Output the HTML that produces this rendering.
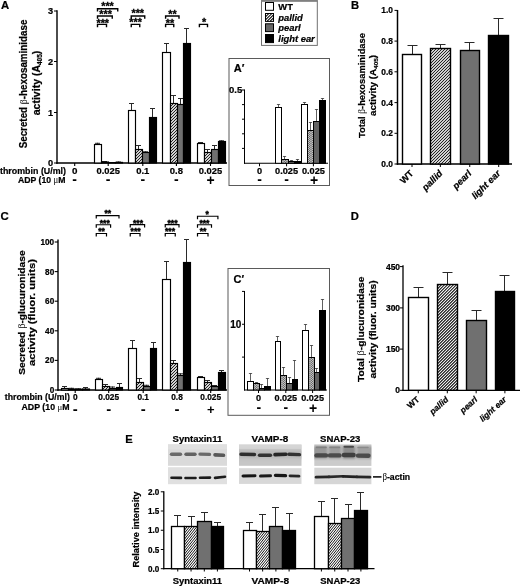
<!DOCTYPE html>
<html lang="en">
<head>
<meta charset="utf-8">
<title>Figure</title>
<style>
html,body{margin:0;padding:0;background:#fff;}
body{width:520px;height:587px;overflow:hidden;}
svg{display:block;}
svg text{font-family:"Liberation Sans",sans-serif;font-weight:bold;fill:#000;stroke:#000;stroke-width:0.22px;}
svg text.i{font-style:italic;}
svg .sym{font-family:"Liberation Serif","DejaVu Serif",serif;font-weight:normal;stroke:none;}
</style>
</head>
<body>
<svg width="520" height="587" viewBox="0 0 520 587">
<defs>
<filter id="bl" x="0" y="440" width="520" height="50" filterUnits="userSpaceOnUse"><feGaussianBlur stdDeviation="0.75"/></filter>
<filter id="bl1" x="0" y="440" width="520" height="50" filterUnits="userSpaceOnUse"><feGaussianBlur stdDeviation="0.9"/></filter>
<filter id="bl2" x="0" y="440" width="520" height="50" filterUnits="userSpaceOnUse"><feGaussianBlur stdDeviation="1.6"/></filter>
</defs>
<rect width="520" height="587" fill="#fff"/>

<g id="panelA">
<text x="0.9" y="9.1" font-size="11.3">A</text>
<line x1="57.00" y1="10.30" x2="57.00" y2="163.70" stroke="#000" stroke-width="1.4"/>
<line x1="56.30" y1="163.00" x2="227.00" y2="163.00" stroke="#000" stroke-width="1.4"/>
<line x1="54.00" y1="11.00" x2="57.00" y2="11.00" stroke="#000" stroke-width="1.0"/>
<text x="53" y="14.0" font-size="9.2" text-anchor="end">3</text>
<line x1="54.00" y1="61.50" x2="57.00" y2="61.50" stroke="#000" stroke-width="1.0"/>
<text x="53" y="64.5" font-size="9.2" text-anchor="end">2</text>
<line x1="54.00" y1="112.50" x2="57.00" y2="112.50" stroke="#000" stroke-width="1.0"/>
<text x="53" y="115.5" font-size="9.2" text-anchor="end">1</text>
<line x1="54.00" y1="163.00" x2="57.00" y2="163.00" stroke="#000" stroke-width="1.0"/>
<text x="53" y="166.0" font-size="9.2" text-anchor="end">0</text>
<text x="26.9" y="84" font-size="10.3" text-anchor="middle" textLength="128.7" lengthAdjust="spacingAndGlyphs" transform="rotate(-90 26.9 84)">Secreted <tspan class="sym">β</tspan>-hexosaminidase</text>
<text x="40.3" y="83" font-size="10.3" text-anchor="middle" textLength="64.5" lengthAdjust="spacingAndGlyphs" transform="rotate(-90 40.3 83)">activity (A<tspan font-size="6.3" dy="1.5">405</tspan><tspan dy="-1.5">)</tspan></text>
<line x1="97.50" y1="144.00" x2="97.50" y2="142.80" stroke="#2a2a2a" stroke-width="1.0"/>
<line x1="95.00" y1="143.30" x2="100.00" y2="143.30" stroke="#2a2a2a" stroke-width="1.0"/>
<line x1="104.50" y1="162.00" x2="104.50" y2="161.00" stroke="#2a2a2a" stroke-width="1.0"/>
<line x1="102.00" y1="161.50" x2="107.00" y2="161.50" stroke="#2a2a2a" stroke-width="1.0"/>
<line x1="118.50" y1="162.40" x2="118.50" y2="161.50" stroke="#2a2a2a" stroke-width="1.0"/>
<line x1="116.00" y1="162.00" x2="121.00" y2="162.00" stroke="#2a2a2a" stroke-width="1.0"/>
<rect x="94.50" y="144.50" width="7.00" height="18.50" fill="#fff" stroke="#000" stroke-width="1.15"/>
<rect x="101.50" y="162.00" width="7.00" height="1.00" fill="#fff"/>
<path d="M102.00 163.00L103.00 162.00M105.00 163.00L106.00 162.00M108.00 163.00L108.50 162.50" stroke="#000" stroke-width="1.05" fill="none"/>
<rect x="101.50" y="162.00" width="7.00" height="1.00" fill="none" stroke="#000" stroke-width="1.15"/>
<rect x="108.50" y="162.60" width="7.00" height="0.40" fill="#707070" stroke="#000" stroke-width="1.15"/>
<rect x="115.50" y="162.40" width="7.00" height="0.60" fill="#000" stroke="#000" stroke-width="1.15"/>
<line x1="131.50" y1="110.00" x2="131.50" y2="103.00" stroke="#2a2a2a" stroke-width="1.0"/>
<line x1="129.00" y1="103.50" x2="134.00" y2="103.50" stroke="#2a2a2a" stroke-width="1.0"/>
<line x1="138.50" y1="149.00" x2="138.50" y2="145.00" stroke="#2a2a2a" stroke-width="1.0"/>
<line x1="136.00" y1="145.50" x2="141.00" y2="145.50" stroke="#2a2a2a" stroke-width="1.0"/>
<line x1="145.50" y1="152.50" x2="145.50" y2="151.30" stroke="#2a2a2a" stroke-width="1.0"/>
<line x1="143.00" y1="151.80" x2="148.00" y2="151.80" stroke="#2a2a2a" stroke-width="1.0"/>
<line x1="152.50" y1="117.00" x2="152.50" y2="108.00" stroke="#2a2a2a" stroke-width="1.0"/>
<line x1="150.00" y1="108.50" x2="155.00" y2="108.50" stroke="#2a2a2a" stroke-width="1.0"/>
<rect x="128.50" y="110.50" width="7.00" height="52.50" fill="#fff" stroke="#000" stroke-width="1.15"/>
<rect x="135.50" y="149.50" width="7.00" height="13.50" fill="#fff"/>
<path d="M135.50 150.50L136.50 149.50M135.50 153.50L139.50 149.50M135.50 156.50L142.50 149.50M135.50 159.50L142.50 152.50M135.50 162.50L142.50 155.50M138.00 163.00L142.50 158.50M141.00 163.00L142.50 161.50" stroke="#000" stroke-width="1.05" fill="none"/>
<rect x="135.50" y="149.50" width="7.00" height="13.50" fill="none" stroke="#000" stroke-width="1.15"/>
<rect x="142.50" y="152.50" width="7.00" height="10.50" fill="#707070" stroke="#000" stroke-width="1.15"/>
<rect x="149.50" y="117.50" width="7.00" height="45.50" fill="#000" stroke="#000" stroke-width="1.15"/>
<line x1="166.50" y1="52.50" x2="166.50" y2="43.00" stroke="#2a2a2a" stroke-width="1.0"/>
<line x1="164.00" y1="43.50" x2="169.00" y2="43.50" stroke="#2a2a2a" stroke-width="1.0"/>
<line x1="173.50" y1="103.40" x2="173.50" y2="95.00" stroke="#2a2a2a" stroke-width="1.0"/>
<line x1="171.00" y1="95.50" x2="176.00" y2="95.50" stroke="#2a2a2a" stroke-width="1.0"/>
<line x1="180.50" y1="104.40" x2="180.50" y2="98.00" stroke="#2a2a2a" stroke-width="1.0"/>
<line x1="178.00" y1="98.50" x2="183.00" y2="98.50" stroke="#2a2a2a" stroke-width="1.0"/>
<line x1="186.50" y1="43.75" x2="186.50" y2="28.00" stroke="#2a2a2a" stroke-width="1.0"/>
<line x1="184.00" y1="28.50" x2="189.00" y2="28.50" stroke="#2a2a2a" stroke-width="1.0"/>
<rect x="162.50" y="52.50" width="8.00" height="110.50" fill="#fff" stroke="#000" stroke-width="1.15"/>
<rect x="170.50" y="103.50" width="7.00" height="59.50" fill="#fff"/>
<path d="M170.50 106.50L173.50 103.50M170.50 109.50L176.50 103.50M170.50 112.50L177.50 105.50M170.50 115.50L177.50 108.50M170.50 118.50L177.50 111.50M170.50 121.50L177.50 114.50M170.50 124.50L177.50 117.50M170.50 127.50L177.50 120.50M170.50 130.50L177.50 123.50M170.50 133.50L177.50 126.50M170.50 136.50L177.50 129.50M170.50 139.50L177.50 132.50M170.50 142.50L177.50 135.50M170.50 145.50L177.50 138.50M170.50 148.50L177.50 141.50M170.50 151.50L177.50 144.50M170.50 154.50L177.50 147.50M170.50 157.50L177.50 150.50M170.50 160.50L177.50 153.50M171.00 163.00L177.50 156.50M174.00 163.00L177.50 159.50M177.00 163.00L177.50 162.50" stroke="#000" stroke-width="1.05" fill="none"/>
<rect x="170.50" y="103.50" width="7.00" height="59.50" fill="none" stroke="#000" stroke-width="1.15"/>
<rect x="177.50" y="104.50" width="6.00" height="58.50" fill="#707070" stroke="#000" stroke-width="1.15"/>
<rect x="183.50" y="43.50" width="7.00" height="119.50" fill="#000" stroke="#000" stroke-width="1.15"/>
<line x1="200.50" y1="143.00" x2="200.50" y2="142.00" stroke="#2a2a2a" stroke-width="1.0"/>
<line x1="198.00" y1="142.50" x2="203.00" y2="142.50" stroke="#2a2a2a" stroke-width="1.0"/>
<line x1="207.50" y1="152.00" x2="207.50" y2="149.00" stroke="#2a2a2a" stroke-width="1.0"/>
<line x1="205.00" y1="149.50" x2="210.00" y2="149.50" stroke="#2a2a2a" stroke-width="1.0"/>
<line x1="214.50" y1="149.25" x2="214.50" y2="145.00" stroke="#2a2a2a" stroke-width="1.0"/>
<line x1="212.00" y1="145.50" x2="217.00" y2="145.50" stroke="#2a2a2a" stroke-width="1.0"/>
<line x1="221.50" y1="141.50" x2="221.50" y2="140.30" stroke="#2a2a2a" stroke-width="1.0"/>
<line x1="219.00" y1="140.80" x2="224.00" y2="140.80" stroke="#2a2a2a" stroke-width="1.0"/>
<rect x="197.50" y="143.50" width="7.00" height="19.50" fill="#fff" stroke="#000" stroke-width="1.15"/>
<rect x="204.50" y="152.50" width="7.00" height="10.50" fill="#fff"/>
<path d="M204.50 153.50L205.50 152.50M204.50 156.50L208.50 152.50M204.50 159.50L211.50 152.50M204.50 162.50L211.50 155.50M207.00 163.00L211.50 158.50M210.00 163.00L211.50 161.50" stroke="#000" stroke-width="1.05" fill="none"/>
<rect x="204.50" y="152.50" width="7.00" height="10.50" fill="none" stroke="#000" stroke-width="1.15"/>
<rect x="211.50" y="149.50" width="7.00" height="13.50" fill="#707070" stroke="#000" stroke-width="1.15"/>
<rect x="218.50" y="141.50" width="7.00" height="21.50" fill="#000" stroke="#000" stroke-width="1.15"/>
<path d="M97.50 11.55V8.75H117.75V11.55" fill="none" stroke="#000" stroke-width="1.4"/>
<text x="107.5" y="10.2" font-size="10.8" text-anchor="middle" style="stroke:#000;stroke-width:0.3">***</text>
<path d="M97.50 18.80V16.00H112.25V18.80" fill="none" stroke="#000" stroke-width="1.4"/>
<text x="105.6" y="18.2" font-size="10.8" text-anchor="middle" style="stroke:#000;stroke-width:0.3">***</text>
<path d="M97.50 27.20V24.40H106.50V27.20" fill="none" stroke="#000" stroke-width="1.4"/>
<text x="102.75" y="26.6" font-size="10.8" text-anchor="middle" style="stroke:#000;stroke-width:0.3">***</text>
<path d="M131.25 18.80V16.00H144.75V18.80" fill="none" stroke="#000" stroke-width="1.4"/>
<text x="137.75" y="17.4" font-size="10.8" text-anchor="middle" style="stroke:#000;stroke-width:0.3">***</text>
<path d="M131.25 27.20V24.40H139.75V27.20" fill="none" stroke="#000" stroke-width="1.4"/>
<text x="135.6" y="26.4" font-size="10.8" text-anchor="middle" style="stroke:#000;stroke-width:0.3">***</text>
<path d="M165.60 18.80V16.00H179.00V18.80" fill="none" stroke="#000" stroke-width="1.4"/>
<text x="172.5" y="18" font-size="10.8" text-anchor="middle" style="stroke:#000;stroke-width:0.3">**</text>
<path d="M165.60 27.20V24.40H173.75V27.20" fill="none" stroke="#000" stroke-width="1.4"/>
<text x="170" y="26.6" font-size="10.8" text-anchor="middle" style="stroke:#000;stroke-width:0.3">**</text>
<path d="M199.40 27.20V24.40H207.50V27.20" fill="none" stroke="#000" stroke-width="1.4"/>
<text x="204" y="26.4" font-size="10.8" text-anchor="middle" style="stroke:#000;stroke-width:0.3">*</text>
<text x="0" y="174.1" font-size="9.7" textLength="66" lengthAdjust="spacingAndGlyphs">thrombin (U/ml)</text>
<line x1="74.70" y1="163.00" x2="74.70" y2="166.00" stroke="#000" stroke-width="1.1"/>
<text x="74.7" y="174.1" font-size="9.8" text-anchor="middle">0</text>
<line x1="108.20" y1="163.00" x2="108.20" y2="166.00" stroke="#000" stroke-width="1.1"/>
<text x="108.2" y="174.1" font-size="9.8" text-anchor="middle" textLength="23.4" lengthAdjust="spacingAndGlyphs">0.025</text>
<line x1="142.80" y1="163.00" x2="142.80" y2="166.00" stroke="#000" stroke-width="1.1"/>
<text x="142.8" y="174.1" font-size="9.8" text-anchor="middle" textLength="13.2" lengthAdjust="spacingAndGlyphs">0.1</text>
<line x1="176.40" y1="163.00" x2="176.40" y2="166.00" stroke="#000" stroke-width="1.1"/>
<text x="176.4" y="174.1" font-size="9.8" text-anchor="middle" textLength="13.2" lengthAdjust="spacingAndGlyphs">0.8</text>
<line x1="210.50" y1="163.00" x2="210.50" y2="166.00" stroke="#000" stroke-width="1.1"/>
<text x="210.5" y="174.1" font-size="9.8" text-anchor="middle" textLength="23.4" lengthAdjust="spacingAndGlyphs">0.025</text>
<text x="18" y="182.9" font-size="9.7" textLength="47.5" lengthAdjust="spacingAndGlyphs">ADP (10 <tspan class="sym">μ</tspan>M</text>
<text x="74.7" y="184.31" font-size="14" text-anchor="middle" style="stroke:none">-</text>
<text x="108.2" y="184.31" font-size="14" text-anchor="middle" style="stroke:none">-</text>
<text x="142.8" y="184.31" font-size="14" text-anchor="middle" style="stroke:none">-</text>
<text x="176.4" y="184.31" font-size="14" text-anchor="middle" style="stroke:none">-</text>
<text x="210.7" y="185.19" font-size="14" text-anchor="middle" style="stroke:none">+</text>
</g>
<g id="legend">
<rect x="261.5" y="0.9" width="55.8" height="44.5" fill="#fff" stroke="#707070" stroke-width="1"/>
<line x1="261.00" y1="0.90" x2="317.80" y2="0.90" stroke="#808080" stroke-width="1.8"/>
<rect x="265.50" y="2.50" width="8.00" height="7.80" fill="#fff" stroke="#000" stroke-width="1.0"/>
<text x="278.3" y="9.6" font-size="9.4">WT</text>
<rect x="265.50" y="13.50" width="8.00" height="7.90" fill="#fff"/>
<path d="M265.50 13.90L265.90 13.50M265.50 16.90L268.90 13.50M265.50 19.90L271.90 13.50M267.00 21.40L273.50 14.90M270.00 21.40L273.50 17.90M273.00 21.40L273.50 20.90" stroke="#000" stroke-width="1.05" fill="none"/>
<rect x="265.50" y="13.50" width="8.00" height="7.90" fill="none" stroke="#000" stroke-width="1.0"/>
<text x="278.3" y="20.7" font-size="9.4" class="i">pallid</text>
<rect x="265.5" y="23.80" width="8" height="7.8" fill="#666" stroke="#000" stroke-width="1"/>
<text x="278.3" y="30.9" font-size="9.4" class="i">pearl</text>
<rect x="265.50" y="34.50" width="8.00" height="8.10" fill="#000" stroke="#000" stroke-width="1.0"/>
<text x="278.3" y="41.9" font-size="9.4" class="i">light ear</text>
</g>
<g id="insetA">
<rect x="229" y="58.5" width="100.5" height="127" fill="#fff" stroke="#5a5a5a" stroke-width="1"/>
<text x="233.75" y="71.8" font-size="11">A′</text>
<line x1="244.50" y1="89.50" x2="244.50" y2="163.80" stroke="#000" stroke-width="1.05"/>
<line x1="244.00" y1="163.30" x2="328.00" y2="163.30" stroke="#000" stroke-width="1.05"/>
<line x1="242.00" y1="90.00" x2="244.50" y2="90.00" stroke="#000" stroke-width="1.0"/>
<line x1="242.00" y1="104.60" x2="244.50" y2="104.60" stroke="#000" stroke-width="1.0"/>
<line x1="242.00" y1="119.20" x2="244.50" y2="119.20" stroke="#000" stroke-width="1.0"/>
<line x1="242.00" y1="133.80" x2="244.50" y2="133.80" stroke="#000" stroke-width="1.0"/>
<line x1="242.00" y1="148.40" x2="244.50" y2="148.40" stroke="#000" stroke-width="1.0"/>
<text x="242.2" y="93.4" font-size="9.5" text-anchor="end">0.5</text>
<line x1="278.50" y1="107.70" x2="278.50" y2="104.08" stroke="#444" stroke-width="0.85"/>
<line x1="276.90" y1="104.50" x2="280.10" y2="104.50" stroke="#444" stroke-width="0.85"/>
<line x1="284.50" y1="159.75" x2="284.50" y2="156.07" stroke="#444" stroke-width="0.85"/>
<line x1="282.90" y1="156.50" x2="286.10" y2="156.50" stroke="#444" stroke-width="0.85"/>
<line x1="291.50" y1="161.00" x2="291.50" y2="160.07" stroke="#444" stroke-width="0.85"/>
<line x1="289.90" y1="160.50" x2="293.10" y2="160.50" stroke="#444" stroke-width="0.85"/>
<line x1="297.50" y1="161.00" x2="297.50" y2="159.07" stroke="#444" stroke-width="0.85"/>
<line x1="295.90" y1="159.50" x2="299.10" y2="159.50" stroke="#444" stroke-width="0.85"/>
<rect x="275.50" y="107.50" width="6.00" height="55.80" fill="#fff" stroke="#000" stroke-width="1.0"/>
<rect x="281.50" y="159.50" width="7.00" height="3.80" fill="#fff"/>
<path d="M281.50 161.43L283.04 159.50M281.60 163.30L284.64 159.50M283.20 163.30L286.24 159.50M284.80 163.30L287.84 159.50M286.40 163.30L288.50 160.68M288.00 163.30L288.50 162.68" stroke="#000" stroke-width="0.64" fill="none"/>
<rect x="281.50" y="159.50" width="7.00" height="3.80" fill="none" stroke="#000" stroke-width="1.0"/>
<rect x="288.50" y="161.50" width="6.00" height="1.80" fill="#626262" stroke="#000" stroke-width="1.0"/>
<rect x="294.50" y="161.50" width="6.00" height="1.80" fill="#000" stroke="#000" stroke-width="1.0"/>
<line x1="304.50" y1="104.70" x2="304.50" y2="102.08" stroke="#444" stroke-width="0.85"/>
<line x1="302.90" y1="102.50" x2="306.10" y2="102.50" stroke="#444" stroke-width="0.85"/>
<line x1="310.50" y1="130.20" x2="310.50" y2="122.08" stroke="#444" stroke-width="0.85"/>
<line x1="308.90" y1="122.50" x2="312.10" y2="122.50" stroke="#444" stroke-width="0.85"/>
<line x1="316.50" y1="121.60" x2="316.50" y2="109.08" stroke="#444" stroke-width="0.85"/>
<line x1="314.90" y1="109.50" x2="318.10" y2="109.50" stroke="#444" stroke-width="0.85"/>
<line x1="322.50" y1="100.60" x2="322.50" y2="98.08" stroke="#444" stroke-width="0.85"/>
<line x1="320.90" y1="98.50" x2="324.10" y2="98.50" stroke="#444" stroke-width="0.85"/>
<rect x="301.50" y="104.50" width="6.00" height="58.80" fill="#fff" stroke="#000" stroke-width="1.0"/>
<rect x="307.50" y="130.50" width="6.00" height="32.80" fill="#fff"/>
<path d="M307.50 130.93L307.84 130.50M307.50 132.93L309.44 130.50M307.50 134.93L311.04 130.50M307.50 136.93L312.64 130.50M307.50 138.93L313.50 131.43M307.50 140.93L313.50 133.43M307.50 142.93L313.50 135.43M307.50 144.93L313.50 137.43M307.50 146.93L313.50 139.43M307.50 148.93L313.50 141.43M307.50 150.93L313.50 143.43M307.50 152.93L313.50 145.43M307.50 154.93L313.50 147.43M307.50 156.93L313.50 149.43M307.50 158.93L313.50 151.43M307.50 160.93L313.50 153.43M307.50 162.93L313.50 155.43M308.80 163.30L313.50 157.43M310.40 163.30L313.50 159.43M312.00 163.30L313.50 161.43" stroke="#000" stroke-width="0.64" fill="none"/>
<rect x="307.50" y="130.50" width="6.00" height="32.80" fill="none" stroke="#000" stroke-width="1.0"/>
<rect x="313.50" y="121.50" width="6.00" height="41.80" fill="#626262" stroke="#000" stroke-width="1.0"/>
<rect x="319.50" y="100.50" width="6.00" height="62.80" fill="#000" stroke="#000" stroke-width="1.0"/>
<line x1="259.50" y1="163.30" x2="259.50" y2="166.30" stroke="#000" stroke-width="1.0"/>
<text x="259.5" y="174" font-size="9.2" text-anchor="middle">0</text>
<line x1="286.60" y1="163.30" x2="286.60" y2="166.30" stroke="#000" stroke-width="1.0"/>
<text x="286.6" y="174" font-size="9.2" text-anchor="middle">0.025</text>
<line x1="313.40" y1="163.30" x2="313.40" y2="166.30" stroke="#000" stroke-width="1.0"/>
<text x="313.4" y="174" font-size="9.2" text-anchor="middle">0.025</text>
<text x="259.5" y="184.31" font-size="14" text-anchor="middle" style="stroke:none">-</text>
<text x="286.6" y="184.31" font-size="14" text-anchor="middle" style="stroke:none">-</text>
<text x="314" y="184.89" font-size="14" text-anchor="middle" style="stroke:none">+</text>
</g>
<g id="panelB">
<text x="351" y="9.0" font-size="11.2">B</text>
<line x1="397.50" y1="10.00" x2="397.50" y2="164.75" stroke="#000" stroke-width="1.5"/>
<line x1="396.75" y1="164.00" x2="512.00" y2="164.00" stroke="#000" stroke-width="1.5"/>
<line x1="394.50" y1="10.40" x2="397.50" y2="10.40" stroke="#000" stroke-width="1.0"/>
<text x="393" y="13.4" font-size="8.4" text-anchor="end">1.0</text>
<line x1="394.50" y1="41.10" x2="397.50" y2="41.10" stroke="#000" stroke-width="1.0"/>
<text x="393" y="44.1" font-size="8.4" text-anchor="end">0.8</text>
<line x1="394.50" y1="71.80" x2="397.50" y2="71.80" stroke="#000" stroke-width="1.0"/>
<text x="393" y="74.8" font-size="8.4" text-anchor="end">0.6</text>
<line x1="394.50" y1="102.60" x2="397.50" y2="102.60" stroke="#000" stroke-width="1.0"/>
<text x="393" y="105.6" font-size="8.4" text-anchor="end">0.4</text>
<line x1="394.50" y1="133.30" x2="397.50" y2="133.30" stroke="#000" stroke-width="1.0"/>
<text x="393" y="136.3" font-size="8.4" text-anchor="end">0.2</text>
<line x1="394.50" y1="164.00" x2="397.50" y2="164.00" stroke="#000" stroke-width="1.0"/>
<text x="393" y="167.0" font-size="8.4" text-anchor="end">0.0</text>
<text x="364.7" y="85.5" font-size="9.5" text-anchor="middle" textLength="105" lengthAdjust="spacingAndGlyphs" transform="rotate(-90 364.7 85.5)">Total <tspan class="sym">β</tspan>-hexosaminidase</text>
<text x="376.1" y="85.5" font-size="9.5" text-anchor="middle" textLength="61" lengthAdjust="spacingAndGlyphs" transform="rotate(-90 376.1 85.5)">activity (A<tspan font-size="6" dy="1.5">405</tspan><tspan dy="-1.5">)</tspan></text>
<line x1="412.50" y1="54.30" x2="412.50" y2="45.00" stroke="#2a2a2a" stroke-width="1.0"/>
<line x1="407.50" y1="45.50" x2="417.50" y2="45.50" stroke="#2a2a2a" stroke-width="1.0"/>
<line x1="440.50" y1="48.50" x2="440.50" y2="44.00" stroke="#2a2a2a" stroke-width="1.0"/>
<line x1="435.50" y1="44.50" x2="445.50" y2="44.50" stroke="#2a2a2a" stroke-width="1.0"/>
<line x1="469.50" y1="50.90" x2="469.50" y2="42.00" stroke="#2a2a2a" stroke-width="1.0"/>
<line x1="464.50" y1="42.50" x2="474.50" y2="42.50" stroke="#2a2a2a" stroke-width="1.0"/>
<line x1="498.50" y1="35.30" x2="498.50" y2="18.00" stroke="#2a2a2a" stroke-width="1.0"/>
<line x1="493.50" y1="18.50" x2="503.50" y2="18.50" stroke="#2a2a2a" stroke-width="1.0"/>
<rect x="402.50" y="54.50" width="19.00" height="109.50" fill="#fff" stroke="#000" stroke-width="1.4"/>
<line x1="412.00" y1="164.00" x2="412.00" y2="167.00" stroke="#000" stroke-width="1.0"/>
<rect x="430.50" y="48.50" width="20.00" height="115.50" fill="#fff"/>
<path d="M430.50 51.50L433.50 48.50M430.50 54.50L436.50 48.50M430.50 57.50L439.50 48.50M430.50 60.50L442.50 48.50M430.50 63.50L445.50 48.50M430.50 66.50L448.50 48.50M430.50 69.50L450.50 49.50M430.50 72.50L450.50 52.50M430.50 75.50L450.50 55.50M430.50 78.50L450.50 58.50M430.50 81.50L450.50 61.50M430.50 84.50L450.50 64.50M430.50 87.50L450.50 67.50M430.50 90.50L450.50 70.50M430.50 93.50L450.50 73.50M430.50 96.50L450.50 76.50M430.50 99.50L450.50 79.50M430.50 102.50L450.50 82.50M430.50 105.50L450.50 85.50M430.50 108.50L450.50 88.50M430.50 111.50L450.50 91.50M430.50 114.50L450.50 94.50M430.50 117.50L450.50 97.50M430.50 120.50L450.50 100.50M430.50 123.50L450.50 103.50M430.50 126.50L450.50 106.50M430.50 129.50L450.50 109.50M430.50 132.50L450.50 112.50M430.50 135.50L450.50 115.50M430.50 138.50L450.50 118.50M430.50 141.50L450.50 121.50M430.50 144.50L450.50 124.50M430.50 147.50L450.50 127.50M430.50 150.50L450.50 130.50M430.50 153.50L450.50 133.50M430.50 156.50L450.50 136.50M430.50 159.50L450.50 139.50M430.50 162.50L450.50 142.50M432.00 164.00L450.50 145.50M435.00 164.00L450.50 148.50M438.00 164.00L450.50 151.50M441.00 164.00L450.50 154.50M444.00 164.00L450.50 157.50M447.00 164.00L450.50 160.50M450.00 164.00L450.50 163.50" stroke="#000" stroke-width="1.05" fill="none"/>
<rect x="430.50" y="48.50" width="20.00" height="115.50" fill="none" stroke="#000" stroke-width="1.4"/>
<line x1="440.35" y1="164.00" x2="440.35" y2="167.00" stroke="#000" stroke-width="1.0"/>
<rect x="460.50" y="50.50" width="19.00" height="113.50" fill="#707070" stroke="#000" stroke-width="1.4"/>
<line x1="469.75" y1="164.00" x2="469.75" y2="167.00" stroke="#000" stroke-width="1.0"/>
<rect x="488.50" y="35.50" width="20.00" height="128.50" fill="#000" stroke="#000" stroke-width="1.4"/>
<line x1="498.70" y1="164.00" x2="498.70" y2="167.00" stroke="#000" stroke-width="1.0"/>
<text x="414" y="174" font-size="9.3" text-anchor="end" transform="rotate(-45 414 174)">WT</text>
<text x="443" y="174" font-size="9.3" text-anchor="end" transform="rotate(-45 443 174)" class="i">pallid</text>
<text x="472" y="174" font-size="9.3" text-anchor="end" transform="rotate(-45 472 174)" class="i">pearl</text>
<text x="501" y="174" font-size="9.3" text-anchor="end" transform="rotate(-45 501 174)" class="i">light ear</text>
</g>
<g id="panelC">
<text x="0.4" y="219.5" font-size="11.4">C</text>
<line x1="58.00" y1="239.50" x2="58.00" y2="390.70" stroke="#000" stroke-width="1.4"/>
<line x1="57.30" y1="390.00" x2="227.00" y2="390.00" stroke="#000" stroke-width="1.4"/>
<line x1="54.70" y1="242.00" x2="58.00" y2="242.00" stroke="#000" stroke-width="1.1"/>
<text x="54.2" y="244.9" font-size="8.2" text-anchor="end">100</text>
<line x1="54.70" y1="271.60" x2="58.00" y2="271.60" stroke="#000" stroke-width="1.1"/>
<text x="54.2" y="274.5" font-size="8.2" text-anchor="end">80</text>
<line x1="54.70" y1="301.20" x2="58.00" y2="301.20" stroke="#000" stroke-width="1.1"/>
<text x="54.2" y="304.09999999999997" font-size="8.2" text-anchor="end">60</text>
<line x1="54.70" y1="330.80" x2="58.00" y2="330.80" stroke="#000" stroke-width="1.1"/>
<text x="54.2" y="333.7" font-size="8.2" text-anchor="end">40</text>
<line x1="54.70" y1="360.40" x2="58.00" y2="360.40" stroke="#000" stroke-width="1.1"/>
<text x="54.2" y="363.29999999999995" font-size="8.2" text-anchor="end">20</text>
<line x1="54.70" y1="390.00" x2="58.00" y2="390.00" stroke="#000" stroke-width="1.1"/>
<text x="54.2" y="392.9" font-size="8.2" text-anchor="end">0</text>
<text x="24.8" y="312.6" font-size="9.8" text-anchor="middle" textLength="124.5" lengthAdjust="spacingAndGlyphs" transform="rotate(-90 24.8 312.6)">Secreted <tspan class="sym">β</tspan>-glucuronidase</text>
<text x="35.2" y="312.6" font-size="9.8" text-anchor="middle" textLength="107" lengthAdjust="spacingAndGlyphs" transform="rotate(-90 35.2 312.6)">activity (fluor. units)</text>
<line x1="64.50" y1="388.00" x2="64.50" y2="386.00" stroke="#2a2a2a" stroke-width="1.0"/>
<line x1="62.00" y1="386.50" x2="67.00" y2="386.50" stroke="#2a2a2a" stroke-width="1.0"/>
<line x1="71.50" y1="389.00" x2="71.50" y2="387.80" stroke="#2a2a2a" stroke-width="1.0"/>
<line x1="69.00" y1="388.30" x2="74.00" y2="388.30" stroke="#2a2a2a" stroke-width="1.0"/>
<line x1="78.50" y1="389.20" x2="78.50" y2="388.30" stroke="#2a2a2a" stroke-width="1.0"/>
<line x1="76.00" y1="388.80" x2="81.00" y2="388.80" stroke="#2a2a2a" stroke-width="1.0"/>
<line x1="85.50" y1="389.00" x2="85.50" y2="387.00" stroke="#2a2a2a" stroke-width="1.0"/>
<line x1="83.00" y1="387.50" x2="88.00" y2="387.50" stroke="#2a2a2a" stroke-width="1.0"/>
<rect x="61.50" y="388.50" width="7.00" height="1.50" fill="#fff" stroke="#000" stroke-width="1.15"/>
<rect x="68.50" y="389.00" width="7.00" height="1.00" fill="#fff"/>
<path d="M69.00 390.00L70.00 389.00M72.00 390.00L73.00 389.00M75.00 390.00L75.50 389.50" stroke="#000" stroke-width="1.05" fill="none"/>
<rect x="68.50" y="389.00" width="7.00" height="1.00" fill="none" stroke="#000" stroke-width="1.15"/>
<rect x="75.50" y="389.20" width="7.00" height="0.80" fill="#707070" stroke="#000" stroke-width="1.15"/>
<rect x="82.50" y="389.00" width="7.00" height="1.00" fill="#000" stroke="#000" stroke-width="1.15"/>
<line x1="98.50" y1="379.00" x2="98.50" y2="377.80" stroke="#2a2a2a" stroke-width="1.0"/>
<line x1="96.00" y1="378.30" x2="101.00" y2="378.30" stroke="#2a2a2a" stroke-width="1.0"/>
<line x1="105.50" y1="386.00" x2="105.50" y2="384.00" stroke="#2a2a2a" stroke-width="1.0"/>
<line x1="103.00" y1="384.50" x2="108.00" y2="384.50" stroke="#2a2a2a" stroke-width="1.0"/>
<line x1="112.50" y1="388.00" x2="112.50" y2="386.50" stroke="#2a2a2a" stroke-width="1.0"/>
<line x1="110.00" y1="387.00" x2="115.00" y2="387.00" stroke="#2a2a2a" stroke-width="1.0"/>
<line x1="119.50" y1="387.50" x2="119.50" y2="383.00" stroke="#2a2a2a" stroke-width="1.0"/>
<line x1="117.00" y1="383.50" x2="122.00" y2="383.50" stroke="#2a2a2a" stroke-width="1.0"/>
<rect x="95.50" y="379.50" width="7.00" height="10.50" fill="#fff" stroke="#000" stroke-width="1.15"/>
<rect x="102.50" y="386.50" width="7.00" height="3.50" fill="#fff"/>
<path d="M102.50 389.50L105.50 386.50M105.00 390.00L108.50 386.50M108.00 390.00L109.50 388.50" stroke="#000" stroke-width="1.05" fill="none"/>
<rect x="102.50" y="386.50" width="7.00" height="3.50" fill="none" stroke="#000" stroke-width="1.15"/>
<rect x="109.50" y="388.50" width="7.00" height="1.50" fill="#707070" stroke="#000" stroke-width="1.15"/>
<rect x="116.50" y="387.50" width="6.00" height="2.50" fill="#000" stroke="#000" stroke-width="1.15"/>
<line x1="132.50" y1="348.25" x2="132.50" y2="340.00" stroke="#2a2a2a" stroke-width="1.0"/>
<line x1="130.00" y1="340.50" x2="135.00" y2="340.50" stroke="#2a2a2a" stroke-width="1.0"/>
<line x1="139.50" y1="382.00" x2="139.50" y2="378.00" stroke="#2a2a2a" stroke-width="1.0"/>
<line x1="137.00" y1="378.50" x2="142.00" y2="378.50" stroke="#2a2a2a" stroke-width="1.0"/>
<line x1="146.50" y1="386.00" x2="146.50" y2="384.80" stroke="#2a2a2a" stroke-width="1.0"/>
<line x1="144.00" y1="385.30" x2="149.00" y2="385.30" stroke="#2a2a2a" stroke-width="1.0"/>
<line x1="153.50" y1="348.25" x2="153.50" y2="342.00" stroke="#2a2a2a" stroke-width="1.0"/>
<line x1="151.00" y1="342.50" x2="156.00" y2="342.50" stroke="#2a2a2a" stroke-width="1.0"/>
<rect x="128.50" y="348.50" width="8.00" height="41.50" fill="#fff" stroke="#000" stroke-width="1.15"/>
<rect x="136.50" y="382.50" width="7.00" height="7.50" fill="#fff"/>
<path d="M136.50 385.50L139.50 382.50M136.50 388.50L142.50 382.50M138.00 390.00L143.50 384.50M141.00 390.00L143.50 387.50" stroke="#000" stroke-width="1.05" fill="none"/>
<rect x="136.50" y="382.50" width="7.00" height="7.50" fill="none" stroke="#000" stroke-width="1.15"/>
<rect x="143.50" y="386.50" width="7.00" height="3.50" fill="#707070" stroke="#000" stroke-width="1.15"/>
<rect x="150.50" y="348.50" width="6.00" height="41.50" fill="#000" stroke="#000" stroke-width="1.15"/>
<line x1="166.50" y1="279.50" x2="166.50" y2="261.00" stroke="#2a2a2a" stroke-width="1.0"/>
<line x1="164.00" y1="261.50" x2="169.00" y2="261.50" stroke="#2a2a2a" stroke-width="1.0"/>
<line x1="173.50" y1="363.75" x2="173.50" y2="360.00" stroke="#2a2a2a" stroke-width="1.0"/>
<line x1="171.00" y1="360.50" x2="176.00" y2="360.50" stroke="#2a2a2a" stroke-width="1.0"/>
<line x1="180.50" y1="375.00" x2="180.50" y2="373.30" stroke="#2a2a2a" stroke-width="1.0"/>
<line x1="178.00" y1="373.80" x2="183.00" y2="373.80" stroke="#2a2a2a" stroke-width="1.0"/>
<line x1="186.50" y1="262.50" x2="186.50" y2="239.00" stroke="#2a2a2a" stroke-width="1.0"/>
<line x1="184.00" y1="239.50" x2="189.00" y2="239.50" stroke="#2a2a2a" stroke-width="1.0"/>
<rect x="162.50" y="279.50" width="8.00" height="110.50" fill="#fff" stroke="#000" stroke-width="1.15"/>
<rect x="170.50" y="363.50" width="7.00" height="26.50" fill="#fff"/>
<path d="M170.50 366.50L173.50 363.50M170.50 369.50L176.50 363.50M170.50 372.50L177.50 365.50M170.50 375.50L177.50 368.50M170.50 378.50L177.50 371.50M170.50 381.50L177.50 374.50M170.50 384.50L177.50 377.50M170.50 387.50L177.50 380.50M171.00 390.00L177.50 383.50M174.00 390.00L177.50 386.50M177.00 390.00L177.50 389.50" stroke="#000" stroke-width="1.05" fill="none"/>
<rect x="170.50" y="363.50" width="7.00" height="26.50" fill="none" stroke="#000" stroke-width="1.15"/>
<rect x="177.50" y="375.50" width="6.00" height="14.50" fill="#707070" stroke="#000" stroke-width="1.15"/>
<rect x="183.50" y="262.50" width="7.00" height="127.50" fill="#000" stroke="#000" stroke-width="1.15"/>
<line x1="200.50" y1="377.50" x2="200.50" y2="376.00" stroke="#2a2a2a" stroke-width="1.0"/>
<line x1="198.00" y1="376.50" x2="203.00" y2="376.50" stroke="#2a2a2a" stroke-width="1.0"/>
<line x1="207.50" y1="382.50" x2="207.50" y2="380.00" stroke="#2a2a2a" stroke-width="1.0"/>
<line x1="205.00" y1="380.50" x2="210.00" y2="380.50" stroke="#2a2a2a" stroke-width="1.0"/>
<line x1="214.50" y1="386.25" x2="214.50" y2="385.00" stroke="#2a2a2a" stroke-width="1.0"/>
<line x1="212.00" y1="385.50" x2="217.00" y2="385.50" stroke="#2a2a2a" stroke-width="1.0"/>
<line x1="221.50" y1="372.50" x2="221.50" y2="370.00" stroke="#2a2a2a" stroke-width="1.0"/>
<line x1="219.00" y1="370.50" x2="224.00" y2="370.50" stroke="#2a2a2a" stroke-width="1.0"/>
<rect x="197.50" y="377.50" width="7.00" height="12.50" fill="#fff" stroke="#000" stroke-width="1.15"/>
<rect x="204.50" y="382.50" width="7.00" height="7.50" fill="#fff"/>
<path d="M204.50 383.50L205.50 382.50M204.50 386.50L208.50 382.50M204.50 389.50L211.50 382.50M207.00 390.00L211.50 385.50M210.00 390.00L211.50 388.50" stroke="#000" stroke-width="1.05" fill="none"/>
<rect x="204.50" y="382.50" width="7.00" height="7.50" fill="none" stroke="#000" stroke-width="1.15"/>
<rect x="211.50" y="386.50" width="7.00" height="3.50" fill="#707070" stroke="#000" stroke-width="1.15"/>
<rect x="218.50" y="372.50" width="7.00" height="17.50" fill="#000" stroke="#000" stroke-width="1.15"/>
<path d="M96.25 218.60V215.60H119.00V218.60" fill="none" stroke="#000" stroke-width="1.2"/>
<text x="107.75" y="215.60000000000002" font-size="8.6" text-anchor="middle" style="stroke:#000;stroke-width:0.45">**</text>
<path d="M96.25 227.75V224.75H110.60V227.75" fill="none" stroke="#000" stroke-width="1.2"/>
<text x="104.75" y="225.60000000000002" font-size="8.6" text-anchor="middle" style="stroke:#000;stroke-width:0.45">***</text>
<path d="M96.25 236.50V233.50H106.50V236.50" fill="none" stroke="#000" stroke-width="1.2"/>
<text x="101.5" y="233.60000000000002" font-size="8.6" text-anchor="middle" style="stroke:#000;stroke-width:0.45">**</text>
<path d="M130.25 227.60V224.60H144.60V227.60" fill="none" stroke="#000" stroke-width="1.2"/>
<text x="138" y="225.60000000000002" font-size="8.6" text-anchor="middle" style="stroke:#000;stroke-width:0.45">***</text>
<path d="M130.25 236.50V233.50H140.00V236.50" fill="none" stroke="#000" stroke-width="1.2"/>
<text x="135.6" y="233.60000000000002" font-size="8.6" text-anchor="middle" style="stroke:#000;stroke-width:0.45">***</text>
<path d="M165.25 227.60V224.60H179.00V227.60" fill="none" stroke="#000" stroke-width="1.2"/>
<text x="172.5" y="225.60000000000002" font-size="8.6" text-anchor="middle" style="stroke:#000;stroke-width:0.45">***</text>
<path d="M165.25 236.50V233.50H175.25V236.50" fill="none" stroke="#000" stroke-width="1.2"/>
<text x="170" y="233.60000000000002" font-size="8.6" text-anchor="middle" style="stroke:#000;stroke-width:0.45">***</text>
<path d="M197.50 219.25V216.25H217.90V219.25" fill="none" stroke="#000" stroke-width="1.2"/>
<text x="207.25" y="216.60000000000002" font-size="8.6" text-anchor="middle" style="stroke:#000;stroke-width:0.45">*</text>
<path d="M197.50 227.75V224.75H211.50V227.75" fill="none" stroke="#000" stroke-width="1.2"/>
<text x="204.4" y="225.60000000000002" font-size="8.6" text-anchor="middle" style="stroke:#000;stroke-width:0.45">***</text>
<path d="M197.50 236.50V233.50H208.00V236.50" fill="none" stroke="#000" stroke-width="1.2"/>
<text x="203" y="233.60000000000002" font-size="8.6" text-anchor="middle" style="stroke:#000;stroke-width:0.45">**</text>
<text x="4.8" y="399.9" font-size="9" textLength="65" lengthAdjust="spacingAndGlyphs">thrombin (U/ml)</text>
<line x1="75.20" y1="390.00" x2="75.20" y2="393.00" stroke="#000" stroke-width="1.1"/>
<text x="75.2" y="399.9" font-size="8.3" text-anchor="middle">0</text>
<line x1="108.70" y1="390.00" x2="108.70" y2="393.00" stroke="#000" stroke-width="1.1"/>
<text x="108.7" y="399.9" font-size="8.3" text-anchor="middle">0.025</text>
<line x1="143.20" y1="390.00" x2="143.20" y2="393.00" stroke="#000" stroke-width="1.1"/>
<text x="143.2" y="399.9" font-size="8.3" text-anchor="middle">0.1</text>
<line x1="177.00" y1="390.00" x2="177.00" y2="393.00" stroke="#000" stroke-width="1.1"/>
<text x="177" y="399.9" font-size="8.3" text-anchor="middle">0.8</text>
<line x1="210.70" y1="390.00" x2="210.70" y2="393.00" stroke="#000" stroke-width="1.1"/>
<text x="210.7" y="399.9" font-size="8.3" text-anchor="middle">0.025</text>
<text x="21.5" y="409.9" font-size="9" textLength="48" lengthAdjust="spacingAndGlyphs">ADP (10 <tspan class="sym">μ</tspan>M</text>
<text x="75.2" y="413.87" font-size="15" text-anchor="middle" style="stroke:none">-</text>
<text x="108.7" y="413.87" font-size="15" text-anchor="middle" style="stroke:none">-</text>
<text x="143.2" y="413.87" font-size="15" text-anchor="middle" style="stroke:none">-</text>
<text x="177" y="413.87" font-size="15" text-anchor="middle" style="stroke:none">-</text>
<text x="210.8" y="413.75" font-size="13" text-anchor="middle" style="stroke:none">+</text>
</g>
<g id="insetC">
<rect x="228" y="268.5" width="101.5" height="146.8" fill="#fff" stroke="#5a5a5a" stroke-width="1"/>
<text x="233.5" y="282.6" font-size="11">C′</text>
<line x1="244.50" y1="291.00" x2="244.50" y2="390.50" stroke="#000" stroke-width="1.05"/>
<line x1="244.00" y1="390.00" x2="327.00" y2="390.00" stroke="#000" stroke-width="1.05"/>
<line x1="242.00" y1="291.40" x2="244.50" y2="291.40" stroke="#000" stroke-width="1.0"/>
<line x1="242.00" y1="324.25" x2="244.50" y2="324.25" stroke="#000" stroke-width="1.0"/>
<line x1="242.00" y1="357.10" x2="244.50" y2="357.10" stroke="#000" stroke-width="1.0"/>
<text x="241.3" y="327.8" font-size="10" text-anchor="end">10</text>
<line x1="250.50" y1="381.75" x2="250.50" y2="373.07" stroke="#444" stroke-width="0.85"/>
<line x1="248.90" y1="373.50" x2="252.10" y2="373.50" stroke="#444" stroke-width="0.85"/>
<line x1="256.50" y1="383.25" x2="256.50" y2="382.07" stroke="#444" stroke-width="0.85"/>
<line x1="254.90" y1="382.50" x2="258.10" y2="382.50" stroke="#444" stroke-width="0.85"/>
<line x1="261.50" y1="388.00" x2="261.50" y2="384.07" stroke="#444" stroke-width="0.85"/>
<line x1="259.90" y1="384.50" x2="263.10" y2="384.50" stroke="#444" stroke-width="0.85"/>
<line x1="267.50" y1="386.25" x2="267.50" y2="378.07" stroke="#444" stroke-width="0.85"/>
<line x1="265.90" y1="378.50" x2="269.10" y2="378.50" stroke="#444" stroke-width="0.85"/>
<rect x="247.50" y="381.50" width="6.00" height="8.50" fill="#fff" stroke="#000" stroke-width="1.0"/>
<rect x="253.50" y="383.50" width="6.00" height="6.50" fill="#fff"/>
<path d="M253.50 385.12L254.80 383.50M253.50 387.12L256.40 383.50M253.50 389.12L258.00 383.50M254.40 390.00L259.50 383.62M256.00 390.00L259.50 385.62M257.60 390.00L259.50 387.62M259.20 390.00L259.50 389.62" stroke="#000" stroke-width="0.64" fill="none"/>
<rect x="253.50" y="383.50" width="6.00" height="6.50" fill="none" stroke="#000" stroke-width="1.0"/>
<rect x="259.50" y="388.50" width="5.00" height="1.50" fill="#626262" stroke="#000" stroke-width="1.0"/>
<rect x="264.50" y="386.50" width="6.00" height="3.50" fill="#000" stroke="#000" stroke-width="1.0"/>
<line x1="277.50" y1="341.25" x2="277.50" y2="336.07" stroke="#444" stroke-width="0.85"/>
<line x1="275.90" y1="336.50" x2="279.10" y2="336.50" stroke="#444" stroke-width="0.85"/>
<line x1="283.50" y1="375.00" x2="283.50" y2="367.07" stroke="#444" stroke-width="0.85"/>
<line x1="281.90" y1="367.50" x2="285.10" y2="367.50" stroke="#444" stroke-width="0.85"/>
<line x1="289.50" y1="383.25" x2="289.50" y2="377.07" stroke="#444" stroke-width="0.85"/>
<line x1="287.90" y1="377.50" x2="291.10" y2="377.50" stroke="#444" stroke-width="0.85"/>
<line x1="294.50" y1="379.25" x2="294.50" y2="360.07" stroke="#444" stroke-width="0.85"/>
<line x1="292.90" y1="360.50" x2="296.10" y2="360.50" stroke="#444" stroke-width="0.85"/>
<rect x="275.50" y="341.50" width="5.00" height="48.50" fill="#fff" stroke="#000" stroke-width="1.0"/>
<rect x="280.50" y="375.50" width="6.00" height="14.50" fill="#fff"/>
<path d="M280.50 377.38L282.00 375.50M280.50 379.38L283.60 375.50M280.50 381.38L285.20 375.50M280.50 383.38L286.50 375.88M280.50 385.38L286.50 377.88M280.50 387.38L286.50 379.88M280.50 389.38L286.50 381.88M281.60 390.00L286.50 383.88M283.20 390.00L286.50 385.88M284.80 390.00L286.50 387.88M286.40 390.00L286.50 389.88" stroke="#000" stroke-width="0.64" fill="none"/>
<rect x="280.50" y="375.50" width="6.00" height="14.50" fill="none" stroke="#000" stroke-width="1.0"/>
<rect x="286.50" y="383.50" width="6.00" height="6.50" fill="#626262" stroke="#000" stroke-width="1.0"/>
<rect x="292.50" y="379.50" width="5.00" height="10.50" fill="#000" stroke="#000" stroke-width="1.0"/>
<line x1="305.50" y1="330.60" x2="305.50" y2="324.07" stroke="#444" stroke-width="0.85"/>
<line x1="303.90" y1="324.50" x2="307.10" y2="324.50" stroke="#444" stroke-width="0.85"/>
<line x1="311.50" y1="357.50" x2="311.50" y2="345.07" stroke="#444" stroke-width="0.85"/>
<line x1="309.90" y1="345.50" x2="313.10" y2="345.50" stroke="#444" stroke-width="0.85"/>
<line x1="316.50" y1="372.50" x2="316.50" y2="368.07" stroke="#444" stroke-width="0.85"/>
<line x1="314.90" y1="368.50" x2="318.10" y2="368.50" stroke="#444" stroke-width="0.85"/>
<line x1="322.50" y1="310.75" x2="322.50" y2="299.07" stroke="#444" stroke-width="0.85"/>
<line x1="320.90" y1="299.50" x2="324.10" y2="299.50" stroke="#444" stroke-width="0.85"/>
<rect x="302.50" y="330.50" width="6.00" height="59.50" fill="#fff" stroke="#000" stroke-width="1.0"/>
<rect x="308.50" y="357.50" width="6.00" height="32.50" fill="#fff"/>
<path d="M308.50 358.38L309.20 357.50M308.50 360.38L310.80 357.50M308.50 362.38L312.40 357.50M308.50 364.38L314.00 357.50M308.50 366.38L314.50 358.88M308.50 368.38L314.50 360.88M308.50 370.38L314.50 362.88M308.50 372.38L314.50 364.88M308.50 374.38L314.50 366.88M308.50 376.38L314.50 368.88M308.50 378.38L314.50 370.88M308.50 380.38L314.50 372.88M308.50 382.38L314.50 374.88M308.50 384.38L314.50 376.88M308.50 386.38L314.50 378.88M308.50 388.38L314.50 380.88M308.80 390.00L314.50 382.88M310.40 390.00L314.50 384.88M312.00 390.00L314.50 386.88M313.60 390.00L314.50 388.88" stroke="#000" stroke-width="0.64" fill="none"/>
<rect x="308.50" y="357.50" width="6.00" height="32.50" fill="none" stroke="#000" stroke-width="1.0"/>
<rect x="314.50" y="372.50" width="5.00" height="17.50" fill="#626262" stroke="#000" stroke-width="1.0"/>
<rect x="319.50" y="310.50" width="6.00" height="79.50" fill="#000" stroke="#000" stroke-width="1.0"/>
<line x1="258.50" y1="390.00" x2="258.50" y2="393.00" stroke="#000" stroke-width="1.0"/>
<text x="258.5" y="400.8" font-size="9.1" text-anchor="middle">0</text>
<line x1="285.80" y1="390.00" x2="285.80" y2="393.00" stroke="#000" stroke-width="1.0"/>
<text x="285.8" y="400.8" font-size="9.1" text-anchor="middle">0.025</text>
<line x1="312.60" y1="390.00" x2="312.60" y2="393.00" stroke="#000" stroke-width="1.0"/>
<text x="312.6" y="400.8" font-size="9.1" text-anchor="middle">0.025</text>
<text x="258.8" y="412.12" font-size="14" text-anchor="middle" style="stroke:none">-</text>
<text x="285.8" y="412.12" font-size="14" text-anchor="middle" style="stroke:none">-</text>
<text x="313.2" y="412.69" font-size="14" text-anchor="middle" style="stroke:none">+</text>
</g>
<g id="panelD">
<text x="350.7" y="219.8" font-size="11.2">D</text>
<line x1="403.00" y1="265.30" x2="403.00" y2="390.95" stroke="#000" stroke-width="1.3"/>
<line x1="402.35" y1="390.30" x2="520.00" y2="390.30" stroke="#000" stroke-width="1.3"/>
<line x1="400.00" y1="266.60" x2="403.00" y2="266.60" stroke="#000" stroke-width="1.0"/>
<text x="400.1" y="269.6" font-size="8.5" text-anchor="end">450</text>
<line x1="400.00" y1="307.90" x2="403.00" y2="307.90" stroke="#000" stroke-width="1.0"/>
<text x="400.1" y="310.9" font-size="8.5" text-anchor="end">300</text>
<line x1="400.00" y1="349.10" x2="403.00" y2="349.10" stroke="#000" stroke-width="1.0"/>
<text x="400.1" y="352.1" font-size="8.5" text-anchor="end">150</text>
<line x1="400.00" y1="390.30" x2="403.00" y2="390.30" stroke="#000" stroke-width="1.0"/>
<text x="400.1" y="393.3" font-size="8.5" text-anchor="end">0</text>
<text x="363.7" y="329.3" font-size="9.8" text-anchor="middle" textLength="105.4" lengthAdjust="spacingAndGlyphs" transform="rotate(-90 363.7 329.3)">Total <tspan class="sym">β</tspan>-glucuronidase</text>
<text x="376.2" y="329.4" font-size="9.6" text-anchor="middle" textLength="98" lengthAdjust="spacingAndGlyphs" transform="rotate(-90 376.2 329.4)">activity (fluor. units)</text>
<line x1="418.50" y1="297.00" x2="418.50" y2="287.00" stroke="#2a2a2a" stroke-width="1.0"/>
<line x1="413.50" y1="287.50" x2="423.50" y2="287.50" stroke="#2a2a2a" stroke-width="1.0"/>
<line x1="447.50" y1="284.00" x2="447.50" y2="272.00" stroke="#2a2a2a" stroke-width="1.0"/>
<line x1="442.50" y1="272.50" x2="452.50" y2="272.50" stroke="#2a2a2a" stroke-width="1.0"/>
<line x1="476.50" y1="320.40" x2="476.50" y2="310.00" stroke="#2a2a2a" stroke-width="1.0"/>
<line x1="471.50" y1="310.50" x2="481.50" y2="310.50" stroke="#2a2a2a" stroke-width="1.0"/>
<line x1="504.50" y1="291.70" x2="504.50" y2="275.00" stroke="#2a2a2a" stroke-width="1.0"/>
<line x1="499.50" y1="275.50" x2="509.50" y2="275.50" stroke="#2a2a2a" stroke-width="1.0"/>
<rect x="408.50" y="297.50" width="20.00" height="92.80" fill="#fff" stroke="#000" stroke-width="1.4"/>
<line x1="418.25" y1="390.30" x2="418.25" y2="393.30" stroke="#000" stroke-width="1.0"/>
<rect x="437.50" y="284.50" width="20.00" height="105.80" fill="#fff"/>
<path d="M437.50 285.80L438.80 284.50M437.50 288.80L441.80 284.50M437.50 291.80L444.80 284.50M437.50 294.80L447.80 284.50M437.50 297.80L450.80 284.50M437.50 300.80L453.80 284.50M437.50 303.80L456.80 284.50M437.50 306.80L457.50 286.80M437.50 309.80L457.50 289.80M437.50 312.80L457.50 292.80M437.50 315.80L457.50 295.80M437.50 318.80L457.50 298.80M437.50 321.80L457.50 301.80M437.50 324.80L457.50 304.80M437.50 327.80L457.50 307.80M437.50 330.80L457.50 310.80M437.50 333.80L457.50 313.80M437.50 336.80L457.50 316.80M437.50 339.80L457.50 319.80M437.50 342.80L457.50 322.80M437.50 345.80L457.50 325.80M437.50 348.80L457.50 328.80M437.50 351.80L457.50 331.80M437.50 354.80L457.50 334.80M437.50 357.80L457.50 337.80M437.50 360.80L457.50 340.80M437.50 363.80L457.50 343.80M437.50 366.80L457.50 346.80M437.50 369.80L457.50 349.80M437.50 372.80L457.50 352.80M437.50 375.80L457.50 355.80M437.50 378.80L457.50 358.80M437.50 381.80L457.50 361.80M437.50 384.80L457.50 364.80M437.50 387.80L457.50 367.80M438.00 390.30L457.50 370.80M441.00 390.30L457.50 373.80M444.00 390.30L457.50 376.80M447.00 390.30L457.50 379.80M450.00 390.30L457.50 382.80M453.00 390.30L457.50 385.80M456.00 390.30L457.50 388.80" stroke="#000" stroke-width="1.05" fill="none"/>
<rect x="437.50" y="284.50" width="20.00" height="105.80" fill="none" stroke="#000" stroke-width="1.4"/>
<line x1="447.30" y1="390.30" x2="447.30" y2="393.30" stroke="#000" stroke-width="1.0"/>
<rect x="466.50" y="320.50" width="20.00" height="69.80" fill="#707070" stroke="#000" stroke-width="1.4"/>
<line x1="476.15" y1="390.30" x2="476.15" y2="393.30" stroke="#000" stroke-width="1.0"/>
<rect x="495.50" y="291.50" width="19.00" height="98.80" fill="#000" stroke="#000" stroke-width="1.4"/>
<line x1="504.90" y1="390.30" x2="504.90" y2="393.30" stroke="#000" stroke-width="1.0"/>
<text x="420" y="400.3" font-size="8.4" text-anchor="end" transform="rotate(-42 420 400.3)">WT</text>
<text x="449" y="400.3" font-size="8.4" text-anchor="end" transform="rotate(-42 449 400.3)" class="i">pallid</text>
<text x="478" y="400.3" font-size="8.4" text-anchor="end" transform="rotate(-42 478 400.3)" class="i">pearl</text>
<text x="507" y="400.3" font-size="8.4" text-anchor="end" transform="rotate(-42 507 400.3)" class="i">light ear</text>
</g>
<g id="panelE">
<text x="125.2" y="443.3" font-size="11.2">E</text>
<text x="197.4" y="441.5" font-size="9.6" text-anchor="middle" textLength="49.7" lengthAdjust="spacingAndGlyphs">Syntaxin11</text>
<text x="269.9" y="441.5" font-size="9.6" text-anchor="middle" textLength="36.7" lengthAdjust="spacingAndGlyphs">VAMP-8</text>
<text x="340.2" y="441.5" font-size="9.6" text-anchor="middle" textLength="40.3" lengthAdjust="spacingAndGlyphs">SNAP-23</text>
<rect x="168" y="444.3" width="59.00" height="21.50" fill="#dadada"/>
<rect x="168" y="467.2" width="59.00" height="17.00" fill="#e0e0e0"/>
<rect x="168" y="444.3" width="59" height="5" fill="#e2e2e2" opacity="0.7"/>
<g filter="url(#bl)">
<path d="M171.5 454.3L180.5 454.3" stroke="#6a6a6a" stroke-width="3.4" stroke-linecap="round" fill="none"/>
<path d="M186 454.3L195 454.3" stroke="#626262" stroke-width="3.4" stroke-linecap="round" fill="none"/>
<path d="M200 454.1L209.5 454.40000000000003" stroke="#6a6a6a" stroke-width="3.4" stroke-linecap="round" fill="none"/>
<path d="M215 454.9L223.5 455.29999999999995" stroke="#585858" stroke-width="3.6" stroke-linecap="round" fill="none"/>
<path d="M171.5 477.7L181 477.9" stroke="#1a1a1a" stroke-width="2.6" stroke-linecap="round" fill="none"/>
<path d="M185.5 478L195.5 478" stroke="#1a1a1a" stroke-width="2.6" stroke-linecap="round" fill="none"/>
<path d="M200 477.8L210 477.6" stroke="#1a1a1a" stroke-width="2.6" stroke-linecap="round" fill="none"/>
<path d="M215 477.9L225 476.7" stroke="#1a1a1a" stroke-width="2.6" stroke-linecap="round" fill="none"/>
</g>
<rect x="239" y="444.6" width="62.50" height="21.20" fill="#c6c6c6"/>
<rect x="239" y="468.2" width="62.50" height="15.70" fill="#d8d8d8"/>
<rect x="239" y="444.6" width="62.5" height="4.5" fill="#d8d8d8" opacity="0.8"/>
<clipPath id="c2"><rect x="239" y="444.6" width="62.5" height="21.2"/></clipPath>
<g clip-path="url(#c2)"><rect x="232" y="450.5" width="76" height="8" fill="#b8b8b8" filter="url(#bl2)"/></g>
<g filter="url(#bl)">
<path d="M241 454.2L254.5 454.5" stroke="#2e2e2e" stroke-width="3.4" stroke-linecap="round" fill="none"/>
<path d="M259.5 455.2L270.5 455.2" stroke="#333" stroke-width="3.4" stroke-linecap="round" fill="none"/>
<path d="M275 454.6L286 454.3" stroke="#262626" stroke-width="3.6" stroke-linecap="round" fill="none"/>
<path d="M289 454.3L299.5 454.6" stroke="#333" stroke-width="3.4" stroke-linecap="round" fill="none"/>
<path d="M243 476L255 475.8" stroke="#181818" stroke-width="3.0" stroke-linecap="round" fill="none"/>
<path d="M260.5 476.1L270.5 475.8" stroke="#1c1c1c" stroke-width="3.0" stroke-linecap="round" fill="none"/>
<path d="M275.5 475.4L285.5 475.59999999999997" stroke="#141414" stroke-width="3.4" stroke-linecap="round" fill="none"/>
<path d="M290 475.8L299 476.2" stroke="#262626" stroke-width="2.8" stroke-linecap="round" fill="none"/>
</g>
<rect x="314.3" y="444.4" width="57.10" height="21.50" fill="#cbcbcb"/>
<rect x="314.3" y="467.7" width="57.10" height="16.50" fill="#d6d6d6"/>
<clipPath id="c3"><rect x="314.3" y="444.4" width="57.1" height="21.5"/></clipPath>
<g clip-path="url(#c3)"><g filter="url(#bl1)"><rect x="312" y="446.3" width="15.300000000000011" height="12.5" fill="#989898"/><rect x="328.7" y="446.3" width="12.300000000000011" height="12.5" fill="#9c9c9c"/><rect x="342.6" y="446.3" width="12.799999999999955" height="12.5" fill="#8c8c8c"/><rect x="357" y="446.3" width="17" height="12.5" fill="#a0a0a0"/></g></g>
<g filter="url(#bl)">
<path d="M316.5 455.4L326 455.4" stroke="#484848" stroke-width="4.4" stroke-linecap="round" fill="none"/>
<path d="M330 455.4L339.5 455.4" stroke="#4c4c4c" stroke-width="4.4" stroke-linecap="round" fill="none"/>
<path d="M344 455.0L353.5 455.0" stroke="#404040" stroke-width="4.6" stroke-linecap="round" fill="none"/>
<path d="M358 455.6L368.5 455.8" stroke="#4c4c4c" stroke-width="4.4" stroke-linecap="round" fill="none"/>
<path d="M316.5 447.4L326 447.4" stroke="#808080" stroke-width="1.6" stroke-linecap="round" fill="none"/>
<path d="M330 447.4L339.5 447.4" stroke="#848484" stroke-width="1.6" stroke-linecap="round" fill="none"/>
<path d="M344.5 446.8L353 446.8" stroke="#484848" stroke-width="2.0" stroke-linecap="round" fill="none"/>
<path d="M358 447.6L368 447.6" stroke="#8a8a8a" stroke-width="1.5" stroke-linecap="round" fill="none"/>
<path d="M316 477.2L329 476.9" stroke="#262626" stroke-width="2.8" stroke-linecap="round" fill="none"/>
<path d="M329 476.9L343 476.29999999999995" stroke="#2a2a2a" stroke-width="2.6" stroke-linecap="round" fill="none"/>
<path d="M343 476.3L357 476.8" stroke="#222" stroke-width="2.8" stroke-linecap="round" fill="none"/>
<path d="M357 476.8L370 477.1" stroke="#262626" stroke-width="2.8" stroke-linecap="round" fill="none"/>
</g>
<line x1="373.00" y1="476.90" x2="381.50" y2="476.90" stroke="#000" stroke-width="1.5"/>
<text x="382.4" y="479.9" font-size="9.5" textLength="27.8" lengthAdjust="spacingAndGlyphs"><tspan class="sym" font-size="9.8">β</tspan>-actin</text>
<line x1="163.80" y1="491.30" x2="163.80" y2="569.35" stroke="#000" stroke-width="1.3"/>
<line x1="163.15" y1="568.70" x2="374.50" y2="568.70" stroke="#000" stroke-width="1.3"/>
<line x1="160.80" y1="491.80" x2="163.80" y2="491.80" stroke="#000" stroke-width="1.0"/>
<text x="159.3" y="494.90000000000003" font-size="8.8" text-anchor="end" textLength="11.3" lengthAdjust="spacingAndGlyphs">2.0</text>
<line x1="160.80" y1="511.00" x2="163.80" y2="511.00" stroke="#000" stroke-width="1.0"/>
<text x="159.3" y="514.1" font-size="8.8" text-anchor="end" textLength="11.3" lengthAdjust="spacingAndGlyphs">1.5</text>
<line x1="160.80" y1="530.25" x2="163.80" y2="530.25" stroke="#000" stroke-width="1.0"/>
<text x="159.3" y="533.35" font-size="8.8" text-anchor="end" textLength="11.3" lengthAdjust="spacingAndGlyphs">1.0</text>
<line x1="160.80" y1="549.50" x2="163.80" y2="549.50" stroke="#000" stroke-width="1.0"/>
<text x="159.3" y="552.6" font-size="8.8" text-anchor="end" textLength="11.3" lengthAdjust="spacingAndGlyphs">0.5</text>
<line x1="160.80" y1="568.70" x2="163.80" y2="568.70" stroke="#000" stroke-width="1.0"/>
<text x="159.3" y="571.8000000000001" font-size="8.8" text-anchor="end" textLength="11.3" lengthAdjust="spacingAndGlyphs">0.0</text>
<text x="138.6" y="529.5" font-size="9.3" text-anchor="middle" textLength="76" lengthAdjust="spacingAndGlyphs" transform="rotate(-90 138.6 529.5)">Relative intensity</text>
<line x1="177.50" y1="526.00" x2="177.50" y2="515.00" stroke="#2a2a2a" stroke-width="1.0"/>
<line x1="174.00" y1="515.50" x2="181.00" y2="515.50" stroke="#2a2a2a" stroke-width="1.0"/>
<line x1="191.50" y1="526.50" x2="191.50" y2="516.00" stroke="#2a2a2a" stroke-width="1.0"/>
<line x1="188.00" y1="516.50" x2="195.00" y2="516.50" stroke="#2a2a2a" stroke-width="1.0"/>
<line x1="204.50" y1="521.30" x2="204.50" y2="512.00" stroke="#2a2a2a" stroke-width="1.0"/>
<line x1="201.00" y1="512.50" x2="208.00" y2="512.50" stroke="#2a2a2a" stroke-width="1.0"/>
<line x1="217.50" y1="526.00" x2="217.50" y2="522.00" stroke="#2a2a2a" stroke-width="1.0"/>
<line x1="214.00" y1="522.50" x2="221.00" y2="522.50" stroke="#2a2a2a" stroke-width="1.0"/>
<rect x="171.50" y="526.50" width="13.00" height="42.20" fill="#fff" stroke="#000" stroke-width="1.3"/>
<rect x="184.50" y="526.50" width="13.00" height="42.20" fill="#fff"/>
<path d="M184.50 527.08L184.96 526.50M184.50 530.08L187.36 526.50M184.50 533.08L189.76 526.50M184.50 536.08L192.16 526.50M184.50 539.08L194.56 526.50M184.50 542.08L196.96 526.50M184.50 545.08L197.50 528.83M184.50 548.08L197.50 531.83M184.50 551.08L197.50 534.83M184.50 554.08L197.50 537.83M184.50 557.08L197.50 540.83M184.50 560.08L197.50 543.83M184.50 563.08L197.50 546.83M184.50 566.08L197.50 549.83M184.80 568.70L197.50 552.83M187.20 568.70L197.50 555.83M189.60 568.70L197.50 558.83M192.00 568.70L197.50 561.83M194.40 568.70L197.50 564.83M196.80 568.70L197.50 567.83" stroke="#000" stroke-width="0.92" fill="none"/>
<rect x="184.50" y="526.50" width="13.00" height="42.20" fill="none" stroke="#000" stroke-width="1.3"/>
<rect x="197.50" y="521.50" width="14.00" height="47.20" fill="#707070" stroke="#000" stroke-width="1.3"/>
<rect x="211.50" y="526.50" width="12.00" height="42.20" fill="#000" stroke="#000" stroke-width="1.3"/>
<line x1="249.50" y1="530.20" x2="249.50" y2="522.00" stroke="#2a2a2a" stroke-width="1.0"/>
<line x1="246.00" y1="522.50" x2="253.00" y2="522.50" stroke="#2a2a2a" stroke-width="1.0"/>
<line x1="262.50" y1="531.00" x2="262.50" y2="514.00" stroke="#2a2a2a" stroke-width="1.0"/>
<line x1="259.00" y1="514.50" x2="266.00" y2="514.50" stroke="#2a2a2a" stroke-width="1.0"/>
<line x1="275.50" y1="526.50" x2="275.50" y2="507.00" stroke="#2a2a2a" stroke-width="1.0"/>
<line x1="272.00" y1="507.50" x2="279.00" y2="507.50" stroke="#2a2a2a" stroke-width="1.0"/>
<line x1="289.50" y1="530.20" x2="289.50" y2="513.00" stroke="#2a2a2a" stroke-width="1.0"/>
<line x1="286.00" y1="513.50" x2="293.00" y2="513.50" stroke="#2a2a2a" stroke-width="1.0"/>
<rect x="243.50" y="530.50" width="13.00" height="38.20" fill="#fff" stroke="#000" stroke-width="1.3"/>
<rect x="256.50" y="531.50" width="13.00" height="37.20" fill="#fff"/>
<path d="M256.50 533.08L257.76 531.50M256.50 536.08L260.16 531.50M256.50 539.08L262.56 531.50M256.50 542.08L264.96 531.50M256.50 545.08L267.36 531.50M256.50 548.08L269.50 531.83M256.50 551.08L269.50 534.83M256.50 554.08L269.50 537.83M256.50 557.08L269.50 540.83M256.50 560.08L269.50 543.83M256.50 563.08L269.50 546.83M256.50 566.08L269.50 549.83M256.80 568.70L269.50 552.83M259.20 568.70L269.50 555.83M261.60 568.70L269.50 558.83M264.00 568.70L269.50 561.83M266.40 568.70L269.50 564.83M268.80 568.70L269.50 567.83" stroke="#000" stroke-width="0.92" fill="none"/>
<rect x="256.50" y="531.50" width="13.00" height="37.20" fill="none" stroke="#000" stroke-width="1.3"/>
<rect x="269.50" y="526.50" width="13.00" height="42.20" fill="#707070" stroke="#000" stroke-width="1.3"/>
<rect x="282.50" y="530.50" width="13.00" height="38.20" fill="#000" stroke="#000" stroke-width="1.3"/>
<line x1="321.50" y1="516.40" x2="321.50" y2="501.00" stroke="#2a2a2a" stroke-width="1.0"/>
<line x1="318.00" y1="501.50" x2="325.00" y2="501.50" stroke="#2a2a2a" stroke-width="1.0"/>
<line x1="334.50" y1="523.50" x2="334.50" y2="498.00" stroke="#2a2a2a" stroke-width="1.0"/>
<line x1="331.00" y1="498.50" x2="338.00" y2="498.50" stroke="#2a2a2a" stroke-width="1.0"/>
<line x1="348.50" y1="518.00" x2="348.50" y2="504.00" stroke="#2a2a2a" stroke-width="1.0"/>
<line x1="345.00" y1="504.50" x2="352.00" y2="504.50" stroke="#2a2a2a" stroke-width="1.0"/>
<line x1="360.50" y1="510.20" x2="360.50" y2="492.00" stroke="#2a2a2a" stroke-width="1.0"/>
<line x1="357.00" y1="492.50" x2="364.00" y2="492.50" stroke="#2a2a2a" stroke-width="1.0"/>
<rect x="314.50" y="516.50" width="14.00" height="52.20" fill="#fff" stroke="#000" stroke-width="1.3"/>
<rect x="328.50" y="523.50" width="13.00" height="45.20" fill="#fff"/>
<path d="M328.50 524.08L328.96 523.50M328.50 527.08L331.36 523.50M328.50 530.08L333.76 523.50M328.50 533.08L336.16 523.50M328.50 536.08L338.56 523.50M328.50 539.08L340.96 523.50M328.50 542.08L341.50 525.83M328.50 545.08L341.50 528.83M328.50 548.08L341.50 531.83M328.50 551.08L341.50 534.83M328.50 554.08L341.50 537.83M328.50 557.08L341.50 540.83M328.50 560.08L341.50 543.83M328.50 563.08L341.50 546.83M328.50 566.08L341.50 549.83M328.80 568.70L341.50 552.83M331.20 568.70L341.50 555.83M333.60 568.70L341.50 558.83M336.00 568.70L341.50 561.83M338.40 568.70L341.50 564.83M340.80 568.70L341.50 567.83" stroke="#000" stroke-width="0.92" fill="none"/>
<rect x="328.50" y="523.50" width="13.00" height="45.20" fill="none" stroke="#000" stroke-width="1.3"/>
<rect x="341.50" y="518.50" width="13.00" height="50.20" fill="#707070" stroke="#000" stroke-width="1.3"/>
<rect x="354.50" y="510.50" width="13.00" height="58.20" fill="#000" stroke="#000" stroke-width="1.3"/>
<line x1="177.75" y1="568.70" x2="177.75" y2="571.50" stroke="#000" stroke-width="1.0"/>
<line x1="191.05" y1="568.70" x2="191.05" y2="571.50" stroke="#000" stroke-width="1.0"/>
<line x1="204.30" y1="568.70" x2="204.30" y2="571.50" stroke="#000" stroke-width="1.0"/>
<line x1="217.40" y1="568.70" x2="217.40" y2="571.50" stroke="#000" stroke-width="1.0"/>
<line x1="249.50" y1="568.70" x2="249.50" y2="571.50" stroke="#000" stroke-width="1.0"/>
<line x1="262.65" y1="568.70" x2="262.65" y2="571.50" stroke="#000" stroke-width="1.0"/>
<line x1="275.90" y1="568.70" x2="275.90" y2="571.50" stroke="#000" stroke-width="1.0"/>
<line x1="289.10" y1="568.70" x2="289.10" y2="571.50" stroke="#000" stroke-width="1.0"/>
<line x1="321.40" y1="568.70" x2="321.40" y2="571.50" stroke="#000" stroke-width="1.0"/>
<line x1="334.75" y1="568.70" x2="334.75" y2="571.50" stroke="#000" stroke-width="1.0"/>
<line x1="348.00" y1="568.70" x2="348.00" y2="571.50" stroke="#000" stroke-width="1.0"/>
<line x1="360.90" y1="568.70" x2="360.90" y2="571.50" stroke="#000" stroke-width="1.0"/>
<text x="197.4" y="584" font-size="9.6" text-anchor="middle" textLength="49.3" lengthAdjust="spacingAndGlyphs">Syntaxin11</text>
<text x="270.3" y="584" font-size="9.6" text-anchor="middle" textLength="37.5" lengthAdjust="spacingAndGlyphs">VAMP-8</text>
<text x="340.3" y="584" font-size="9.6" text-anchor="middle" textLength="40" lengthAdjust="spacingAndGlyphs">SNAP-23</text>
</g>
</svg>
</body>
</html>
